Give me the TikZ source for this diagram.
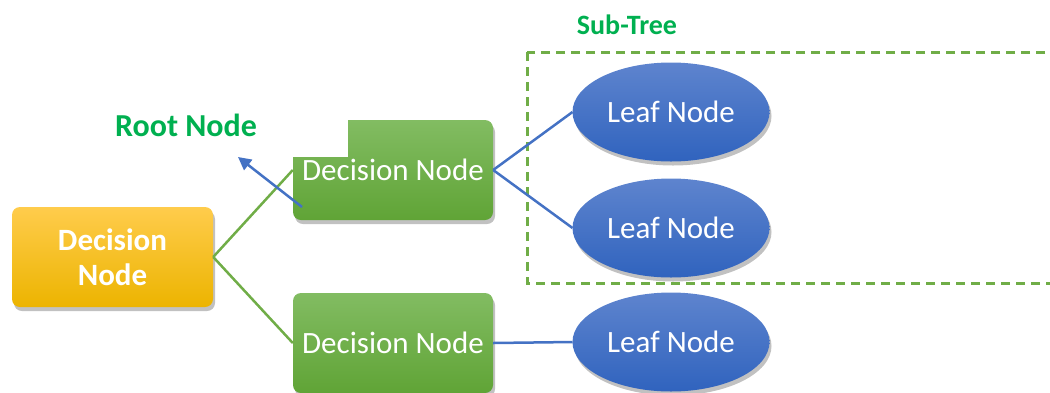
\documentclass[tikz,border=0pt]{standalone}
\usepackage{fontspec}
\setmainfont{Carlito}
\usetikzlibrary{shapes.geometric,arrows.meta,shadows,positioning}
\usepackage{xcolor}
\definecolor{rootTop}{RGB}{255,204,76}
\definecolor{rootBot}{RGB}{236,180,0}
\definecolor{decTop}{RGB}{130,188,98}
\definecolor{decBot}{RGB}{96,164,54}
\definecolor{leafTop}{RGB}{94,132,206}
\definecolor{leafBot}{RGB}{48,99,190}
\definecolor{linkblue}{RGB}{68,114,196}
\definecolor{linkgreen}{RGB}{112,173,71}
\definecolor{labelgreen}{RGB}{0,176,80}
\tikzset{
softshadow/.style={drop shadow={shadow xshift=2pt,shadow yshift=-4pt,opacity=0.35,fill=black!70}},
rootbox/.style={rectangle,rounded corners=8pt,top color=rootTop,bottom color=rootBot,
  softshadow,minimum width=201pt,minimum height=100pt,align=center,text=white,
  font=\fontsize{31}{35}\selectfont\bfseries},
decbox/.style={rectangle,rounded corners=8pt,top color=decTop,bottom color=decBot,
  softshadow,minimum width=200pt,minimum height=100pt,align=center,text=white,
  font=\fontsize{31}{35}\selectfont},
leafnode/.style={ellipse,top color=leafTop,bottom color=leafBot,softshadow,
  minimum width=197pt,minimum height=99pt,inner sep=0pt,outer sep=0pt,text=white,
  font=\fontsize{31}{35}\selectfont},
treelabel/.style={text=labelgreen,font=\fontsize{28}{32}\selectfont\bfseries},
blueline/.style={draw=linkblue,line width=2.5pt},
greenline/.style={draw=linkgreen,line width=2.5pt},
subtreebox/.style={draw=linkgreen,line width=3pt,dash pattern=on 9pt off 6pt}
}
\begin{document}
\begin{tikzpicture}[x=1pt,y=-1pt]
\useasboundingbox (0,0) rectangle (1050,392);
% decision nodes and leaves
\node[rootbox] (root) at (112.5,257) {Decision\\Node};
\node[decbox] (dec1) at (393,170) {Decision Node};
\node[decbox] (dec2) at (393,343) {Decision Node};
\node[leafnode] (leaf1) at (671,112) {Leaf Node};
\node[leafnode] (leaf2) at (671,228) {Leaf Node};
\node[leafnode] (leaf3) at (671,342) {Leaf Node};

% labels
\node[treelabel,font=\fontsize{32}{36}\selectfont\bfseries,fill=white,
  minimum width=324pt,minimum height=64pt] (rootlbl) at (186,125) {Root Node};
\node[treelabel] (sublbl) at (627,25) {Sub-Tree};
\draw[subtreebox] (527,52) rectangle (1080,283);

\coordinate (arrtail) at (302,207);
\coordinate (arrhead) at (238,157);

\draw[greenline] (root.east) -- (dec1.west);
\draw[greenline] (root.east) -- (dec2.west);
\draw[blueline] (dec1.east) -- (leaf1.west);
\draw[blueline] (dec1.east) -- (leaf2.west);
\draw[blueline] (dec2.east) -- (leaf3.west);
\draw[blueline,->,>={Triangle[length=13pt,width=13pt]}] (arrtail) -- (arrhead);
\end{tikzpicture}
\end{document}
